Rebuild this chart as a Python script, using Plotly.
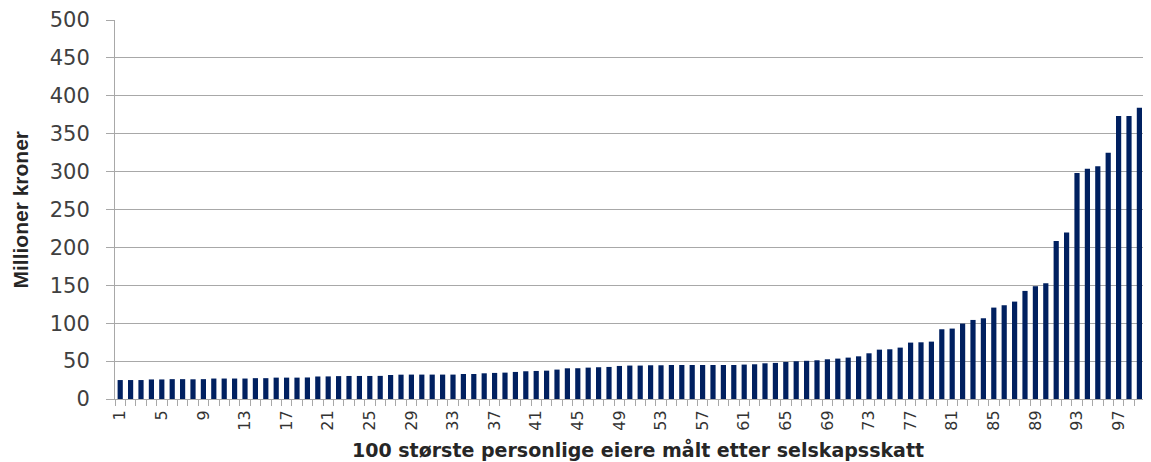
import plotly.graph_objects as go

# Rank of owner (bar 100 falls outside the visible picture)
ranks = list(range(1, 100))
# Corporate tax, million NOK
values = [
    25.0, 25.0, 25.0, 25.8, 25.8, 26.2, 26.2, 26.0, 26.2, 27.0,
    27.0, 27.0, 27.0, 27.5, 27.5, 28.2, 28.2, 28.2, 28.4, 29.7,
    29.8, 30.2, 30.4, 30.4, 30.4, 30.5, 31.7, 32.1, 32.2, 32.2,
    32.2, 32.2, 32.2, 33.0, 33.0, 33.9, 34.4, 34.8, 35.7, 36.6,
    37.0, 37.4, 38.8, 40.5, 40.6, 41.4, 41.9, 42.3, 43.6, 44.1,
    44.1, 44.5, 44.5, 44.9, 44.9, 44.9, 44.9, 44.9, 44.9, 44.9,
    45.4, 45.8, 47.1, 47.6, 48.9, 49.8, 50.4, 51.1, 52.4, 53.3,
    54.6, 56.3, 60.3, 65.1, 65.6, 67.8, 74.4, 74.8, 75.7, 92.0,
    92.9, 99.5, 104.3, 106.5, 120.6, 123.7, 128.5, 142.6, 148.8, 152.7,
    208.6, 219.6, 298.0, 303.7, 307.2, 324.8, 373.2, 373.2, 384.2,
]
y_ticks = [0, 50, 100, 150, 200, 250, 300, 350, 400, 450, 500]
y_title = "Millioner kroner"
x_title = "100 største personlige eiere målt etter selskapsskatt"

# page has an 8 px body margin, so the figure is sized to fit inside it
W, H = 1135, 454
ML, MR, MT, MB = 107, 0, 12, 63
plot_w = W - ML - MR
plot_h = H - MT - MB
step = 10.40  # px per category
x_max = 0.5 + plot_w / step

fig = go.Figure(go.Bar(
    x=ranks, y=values,
    marker=dict(color="#002060", line=dict(width=0)),
))

grid_col = "#a8a8a8"
fig.update_layout(
    width=W, height=H,
    margin=dict(l=ML, r=MR, t=MT, b=MB, pad=0, autoexpand=False),
    paper_bgcolor="white", plot_bgcolor="white",
    bargap=0.5, showlegend=False,
    xaxis=dict(
        range=[0.5, x_max], tickmode="linear", tick0=1, dtick=4,
        ticks="", tickangle=-90, ticklabelstandoff=4, automargin=False,
        tickfont=dict(family="DejaVu Sans", size=16, color="#333333"),
        showgrid=False, zeroline=False,
        showline=True, linecolor=grid_col, linewidth=1,
        minor=dict(ticks="outside", ticklen=6, tickcolor=grid_col,
                   tickmode="linear", tick0=0.5, dtick=1, showgrid=False),
    ),
    yaxis=dict(
        range=[0, 500], tickmode="array", tickvals=y_ticks,
        ticks="outside", ticklen=8, tickcolor=grid_col, tickwidth=1,
        ticklabelstandoff=12, automargin=False,
        tickfont=dict(family="DejaVu Sans", size=21, color="#404040"),
        showgrid=True, gridcolor=grid_col, gridwidth=1,
        zeroline=False, showline=True, linecolor=grid_col, linewidth=1,
    ),
    annotations=[
        dict(text=y_title, textangle=-90, xref="paper", yref="paper",
             x=(20 - 115) / plot_w, y=0.5, xanchor="center", yanchor="middle",
             showarrow=False,
             font=dict(family="Liberation Sans Narrow, Arial Narrow, sans-serif",
                       size=21, color="#262626", weight="bold")),
        dict(text=x_title, xref="paper", yref="paper",
             x=(638 - 115) / plot_w, y=(399 - 449) / plot_h,
             xanchor="center", yanchor="middle", showarrow=False,
             font=dict(family="DejaVu Sans", size=19, color="#262626",
                       weight="bold")),
    ],
)

fig.write_html("out.html")
